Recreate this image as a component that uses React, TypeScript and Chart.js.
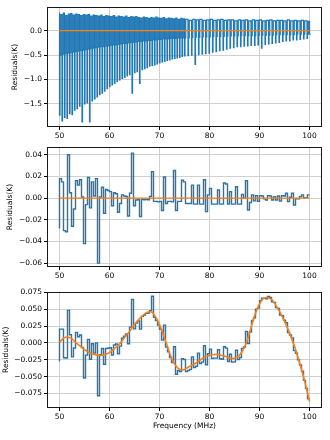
import React, { useEffect, useRef } from "react";
import { Chart, registerables } from "chart.js";
Chart.register(...registerables);

// ---------- data ----------
const X_TICKS = [50, 60, 70, 80, 90, 100];

// Panel 1: raw residual spikes
const SPIKE_FREQ = [
  50.0, 50.5, 51.0, 51.5, 52.0, 52.5, 53.0, 53.5, 54.0, 54.5, 55.0,
  55.5, 56.0, 56.5, 57.0, 57.5, 58.0, 58.5, 59.0, 59.5, 60.0,
  60.5, 61.0, 61.5, 62.0, 62.5, 63.0, 63.5, 64.0, 64.5, 65.0,
  65.5, 66.0, 66.5, 67.0, 67.5, 68.0, 68.5, 69.0, 69.5, 70.0,
  70.5, 71.0, 71.5, 72.0, 72.5, 73.0, 73.5, 74.0, 74.5, 75.0,
  75.7, 76.4, 77.1, 77.8, 78.5, 79.2, 79.9, 80.6, 81.3, 82.0, 82.7, 83.4,
  84.1, 84.8, 85.5, 86.2, 86.9, 87.6, 88.3, 89.0, 89.7, 90.4, 91.1, 91.8,
  92.5, 93.2, 93.9, 94.6, 95.3, 96.0, 96.7, 97.4, 98.1, 98.8, 99.5, 100.0,
];
const SPIKE_TOP = [
  0.37, 0.33, 0.36, 0.31, 0.34, 0.35, 0.32, 0.34, 0.33, 0.31, 0.33,
  0.32, 0.33, 0.30, 0.32, 0.31, 0.30, 0.32, 0.29, 0.31, 0.30,
  0.29, 0.31, 0.28, 0.30, 0.29, 0.28, 0.30, 0.27, 0.29, 0.28,
  0.29, 0.27, 0.26, 0.28, 0.27, 0.25, 0.27, 0.26, 0.28, 0.26,
  0.25, 0.27, 0.24, 0.26, 0.25, 0.24, 0.26, 0.23, 0.25, 0.24,
  0.23, 0.21, 0.23, 0.22, 0.23, 0.21, 0.22, 0.23, 0.21, 0.22, 0.23, 0.21,
  0.22, 0.22, 0.20, 0.22, 0.21, 0.22, 0.20, 0.22, 0.21, 0.22, 0.20, 0.21,
  0.22, 0.20, 0.21, 0.21, 0.20, 0.22, 0.20, 0.21, 0.20, 0.21, 0.20, 0.19,
];
const SPIKE_BOTTOM = [
  -1.73, -1.85, -1.78, -1.80, -1.70, -1.72, -1.63, -1.60, -1.55, -1.87, -1.50,
  -1.48, -1.87, -1.44, -1.40, -1.36, -1.31, -1.28, -1.24, -1.19, -1.15,
  -1.11, -1.08, -1.04, -1.01, -0.98, -0.96, -0.93, -0.90, -1.28, -0.86,
  -0.84, -1.08, -0.80, -0.78, -0.76, -0.73, -0.71, -0.70, -0.68, -0.66,
  -0.64, -0.63, -0.61, -0.60, -0.58, -0.57, -0.56, -0.55, -0.53, -0.52,
  -0.51, -0.50, -0.69, -0.49, -0.48, -0.47, -0.46, -0.44, -0.43, -0.41, -0.40, -0.38,
  -0.36, -0.35, -0.33, -0.33, -0.32, -0.31, -0.30, -0.30, -0.29, -0.36, -0.28, -0.27,
  -0.26, -0.25, -0.24, -0.22, -0.21, -0.21, -0.19, -0.19, -0.18, -0.17, -0.16, -0.07,
];
const SPIKE_BAND = [
  -0.50, -0.48, -0.47, -0.46, -0.45, -0.44, -0.43, -0.42, -0.41, -0.40, -0.39,
  -0.38, -0.37, -0.36, -0.35, -0.34, -0.33, -0.33, -0.32, -0.31, -0.30,
  -0.29, -0.29, -0.28, -0.27, -0.26, -0.26, -0.25, -0.24, -0.24, -0.23,
  -0.22, -0.22, -0.21, -0.21, -0.20, -0.20, -0.19, -0.19, -0.18, -0.18,
  -0.17, -0.17, -0.17, -0.16, -0.16, -0.16, -0.15, -0.15, -0.15, -0.15,
  -0.15, -0.14, -0.14, -0.14, -0.13, -0.13, -0.13, -0.12, -0.12, -0.12, -0.12, -0.11,
  -0.11, -0.11, -0.11, -0.10, -0.10, -0.10, -0.10, -0.10, -0.09, -0.09, -0.09, -0.09,
  -0.09, -0.08, -0.08, -0.08, -0.08, -0.08, -0.08, -0.07, -0.07, -0.07, -0.07, -0.07,
];

// Panels 2 and 3: binned residuals (step plot, value i holds over (FREQ[i-1], FREQ[i]])
const FREQ_EDGES = [
  50.0, 50.4, 50.8, 51.2, 51.6, 52.0, 52.4, 52.8, 53.2, 53.6, 54.0, 54.4, 54.8, 55.2, 55.6,
  56.0, 56.4, 56.8, 57.2, 57.6, 58.0, 58.4, 58.8, 59.2, 59.6, 60.0, 60.4, 60.8, 61.2, 61.6,
  62.0, 62.4, 62.8, 63.2, 63.6, 64.0, 64.4, 64.8, 65.2, 65.6, 66.0, 66.4, 66.8, 67.2, 67.6,
  68.0, 68.4, 68.8, 69.2, 69.6, 70.0, 70.4, 70.8, 71.2, 71.6, 72.0, 72.4, 72.8, 73.2, 73.6,
  74.0, 74.4, 74.8, 75.2, 75.6, 76.0, 76.4, 76.8, 77.2, 77.6, 78.0, 78.4, 78.8, 79.2, 79.6,
  80.0, 80.4, 80.8, 81.2, 81.6, 82.0, 82.4, 82.8, 83.2, 83.6, 84.0, 84.4, 84.8, 85.2, 85.6,
  86.0, 86.4, 86.8, 87.2, 87.6, 88.0, 88.4, 88.8, 89.2, 89.6, 90.0, 90.4, 90.8, 91.2, 91.6,
  92.0, 92.4, 92.8, 93.2, 93.6, 94.0, 94.4, 94.8, 95.2, 95.6, 96.0, 96.4, 96.8, 97.2, 97.6,
  98.0, 98.4, 98.8, 99.2, 99.6, 100.0,
];
const RESID_AFTER_FIT = [
  -0.028, 0.018, 0.015, -0.030, -0.031, 0.040, 0.005, -0.026, -0.010, 0.016,
  0.012, 0.017, 0.001, -0.042, -0.006, 0.019, -0.009, 0.015, 0.002, 0.018,
  -0.060, 0.001, 0.010, -0.014, 0.008, 0.007, 0.006, -0.007, 0.005, 0.004,
  -0.013, -0.005, 0.003, 0.002, 0.0015, -0.0165, 0.0045, 0.0415, -0.007, -0.0017,
  -0.0015, -0.017, -0.001, -0.0015, -0.001, -0.0015, 0.0015, 0.0245, -0.003, -0.003,
  -0.0035, -0.003, -0.0115, 0.0195, -0.005, -0.003, -0.003, -0.0035, 0.0255, -0.0115,
  -0.003, -0.003, 0.0165, 0.015, -0.005, -0.005, -0.005, 0.012, -0.0055, -0.0055,
  0.012, -0.0055, -0.0055, 0.017, -0.0125, 0.003, 0.009, -0.0055, -0.0055, -0.0055,
  0.0075, -0.0055, -0.0055, 0.014, 0.013, -0.0055, 0.006, -0.0055, -0.0055, 0.0105,
  -0.0055, -0.0055, 0.0035, 0.0, 0.016, -0.011, -0.004, 0.003, -0.0025, 0.0023,
  -0.003, 0.0023, 0.002, -0.0007, -0.0017, 0.0023, 0.002, -0.0017, 0.0014, -0.0017,
  0.002, -0.0026, 0.0023, 0.002, 0.0045, -0.0032, 0.0008, 0.0045, -0.0063, -0.0007,
  -0.0007, 0.0014, 0.003, 0.0005, 0.0005, 0.003,
];
const RESID_BEFORE_FIT = [
  -0.027, 0.0206, 0.0206, -0.022, -0.0222, 0.0484, 0.0122, -0.0207, -0.0075, 0.0157,
  0.0092, 0.0118, -0.0066, -0.052, -0.018, 0.0053, -0.0241, -0.0012, -0.015, 0.0002,
  -0.0783, -0.0175, -0.0083, -0.0315, -0.0083, -0.0078, -0.007, -0.0178, -0.003, -0.0016,
  -0.0159, -0.0047, 0.007, 0.010, 0.0135, -0.0011, 0.0235, 0.0647, 0.021, 0.0295,
  0.0329, 0.0206, 0.0396, 0.0415, 0.044, 0.0446, 0.0478, 0.0695, 0.038, 0.0332,
  0.0267, 0.0204, 0.0043, 0.0265, -0.006, -0.0132, -0.0216, -0.0289, -0.0055, -0.0465,
  -0.0408, -0.0424, -0.0234, -0.0245, -0.0425, -0.0408, -0.0392, -0.0206, -0.0365, -0.0345,
  -0.015, -0.0305, -0.0285, -0.004, -0.0323, -0.0159, -0.0091, -0.0229, -0.0225, -0.0225,
  -0.0098, -0.0234, -0.0242, -0.0055, -0.0077, -0.0274, -0.0167, -0.0284, -0.028, -0.0108,
  -0.0247, -0.0215, -0.0081, -0.006, 0.0172, -0.0008, 0.0162, 0.0334, 0.0375, 0.0503,
  0.0518, 0.0627, 0.0666, 0.0663, 0.0657, 0.0692, 0.0675, 0.0613, 0.0604, 0.0525,
  0.0514, 0.0416, 0.0407, 0.034, 0.0301, 0.0154, 0.0118, 0.0075, -0.0113, -0.0153,
  -0.0249, -0.0328, -0.0418, -0.0555, -0.0675, -0.083,
];

// Panel 3: smooth fit
const FIT_FREQ = [
  50, 50.5, 51, 51.5, 52, 52.5, 53, 53.5, 54, 54.5, 55, 55.5, 56, 56.5, 57, 57.5, 58, 58.5, 59, 59.5,
  60, 60.5, 61, 61.5, 62, 62.5, 63, 63.5, 64, 64.5, 65, 65.5, 66, 66.5, 67, 67.5, 68, 68.5, 69, 69.5,
  70, 70.5, 71, 71.5, 72, 72.5, 73, 73.5, 74, 74.5, 75, 75.5, 76, 76.5, 77, 77.5, 78, 78.5, 79, 79.5,
  80, 80.5, 81, 81.5, 82, 82.5, 83, 83.5, 84, 84.5, 85, 85.5, 86, 86.5, 87, 87.5, 88, 88.5, 89, 89.5,
  90, 90.5, 91, 91.5, 92, 92.5, 93, 93.5, 94, 94.5, 95, 95.5, 96, 96.5, 97, 97.5, 98, 98.5, 99, 99.5,
  100,
];
const FIT_VAL = [
  0.001, 0.005, 0.008, 0.009, 0.008, 0.006, 0.0025, -0.001, -0.004, -0.007,
  -0.010, -0.0125, -0.0145, -0.016, -0.017, -0.018, -0.0185, -0.0185, -0.0175, -0.016,
  -0.014, -0.0115, -0.008, -0.005, -0.0015, 0.003, 0.008, 0.013, 0.017, 0.0225,
  0.0275, 0.032, 0.036, 0.040, 0.043, 0.0455, 0.0465, 0.046, 0.041, 0.035,
  0.027, 0.018, 0.007, -0.003, -0.015, -0.024, -0.031, -0.036, -0.039, -0.040,
  -0.0395, -0.037, -0.035, -0.033, -0.031, -0.0285, -0.026, -0.0235, -0.021, -0.0195,
  -0.0185, -0.0175, -0.017, -0.017, -0.0175, -0.0185, -0.0195, -0.021, -0.0225, -0.023,
  -0.0225, -0.021, -0.018, -0.013, -0.006, 0.003, 0.015, 0.028, 0.040, 0.050,
  0.058, 0.064, 0.067, 0.0675, 0.0665, 0.064, 0.059, 0.053, 0.047, 0.040,
  0.032, 0.024, 0.015, 0.005, -0.005, -0.017, -0.029, -0.042, -0.056, -0.071,
  -0.087,
];

const P1_TICKS = [-1.5, -1.0, -0.5, 0.0];
const P2_TICKS = [-0.06, -0.04, -0.02, 0.0, 0.02, 0.04];
const P3_TICKS = [-0.075, -0.05, -0.025, 0.0, 0.025, 0.05, 0.075];

// ---------- styling ----------
const BLUE = "#1f77b4";
const ORANGE = "#ff7f0e";
const FONT = "'DejaVu Sans', sans-serif";

function fmt(v: number, d: number) {
  const s = Math.abs(v).toFixed(d);
  return (v < -1e-9 ? "\u2212" : "") + s;
}

const framePlugin = {
  id: "frame",
  afterDraw(chart: any) {
    const { ctx, chartArea: a } = chart;
    const l = Math.round(a.left), t = Math.round(a.top), r = Math.round(a.right), b = Math.round(a.bottom);
    ctx.save();
    ctx.strokeStyle = "#1a1a1a";
    ctx.lineWidth = 1;
    ctx.strokeRect(l + 0.5, t + 0.5, r - l - 1, b - t - 1);
    ctx.restore();
  },
};

const zeroLine = () => ({
  data: [{ x: 50, y: 0 }, { x: 100, y: 0 }],
  borderColor: ORANGE,
  borderWidth: 1.4,
  pointRadius: 0,
});

function stepSeries(values: number[]) {
  return FREQ_EDGES.map((f, i) => ({ x: f, y: values[i] }));
}

function spikeSeries() {
  const pts: { x: number; y: number }[] = [];
  SPIKE_FREQ.forEach((f, i) => {
    pts.push({ x: f, y: SPIKE_TOP[i] });
    pts.push({ x: f + 0.1, y: SPIKE_BOTTOM[i] });
    pts.push({ x: f + 0.25, y: SPIKE_BAND[i] });
  });
  return pts;
}

type PanelProps = {
  top: number; height: number; padTop: number; xHeight: number;
  yMin: number; yMax: number; yTicks: number[]; yDec: number; yTitlePad: number;
  xTitle?: string; datasets: any[];
};

function Panel(p: PanelProps) {
  const ref = useRef<HTMLCanvasElement>(null);
  useEffect(() => {
    const tickFont = { family: FONT, size: 7.5 };
    const chart = new Chart(ref.current as HTMLCanvasElement, {
      type: "line",
      data: { datasets: p.datasets },
      options: {
        animation: false,
        responsive: false,
        events: [],
        layout: { padding: { top: p.padTop, right: 8, left: 0, bottom: 0 } },
        plugins: { legend: { display: false }, tooltip: { enabled: false } },
        elements: { point: { radius: 0 } },
        scales: {
          x: {
            type: "linear",
            min: 47.5,
            max: 102.5,
            afterBuildTicks: (s: any) => { s.ticks = X_TICKS.map((v) => ({ value: v })); },
            afterFit: (s: any) => { s.height = p.xHeight; },
            ticks: { font: tickFont, color: "#000", padding: 2, maxRotation: 0, autoSkip: false, callback: (v: any) => String(v) },
            grid: { color: "#d0d0d0", lineWidth: 1, tickLength: 3, tickColor: "#000", tickWidth: 1 },
            border: { display: false },
            title: p.xTitle
              ? { display: true, text: p.xTitle, font: tickFont, color: "#000", padding: { top: 0, bottom: 9 } }
              : { display: false },
          },
          y: {
            type: "linear",
            min: p.yMin,
            max: p.yMax,
            afterBuildTicks: (s: any) => { s.ticks = p.yTicks.map((v) => ({ value: v })); },
            afterFit: (s: any) => { s.width = 47; },
            ticks: { font: tickFont, color: "#000", padding: 2, autoSkip: false, callback: (v: any) => fmt(Number(v), p.yDec) },
            grid: { color: "#d0d0d0", lineWidth: 1, tickLength: 3, tickColor: "#000", tickWidth: 1 },
            border: { display: false },
            title: { display: true, text: "Residuals(K)", font: tickFont, color: "#000", padding: { top: p.yTitlePad, bottom: 0 } },
          },
        },
      } as any,
      plugins: [framePlugin],
    });
    return () => chart.destroy();
  }, []);
  return (
    <div style={{ position: "absolute", left: 0, top: p.top, width: 330, height: p.height }}>
      <canvas ref={ref} width={330} height={p.height} style={{ display: "block" }} />
    </div>
  );
}

export default function App() {
  const p1 = [
    zeroLine(),
    { data: spikeSeries(), borderColor: BLUE, borderWidth: 1.2, stepped: "after", pointRadius: 0 },
  ];
  const p2 = [
    zeroLine(),
    { data: stepSeries(RESID_AFTER_FIT), borderColor: BLUE, borderWidth: 1.4, stepped: "after", pointRadius: 0 },
  ];
  const p3 = [
    {
      data: FIT_FREQ.map((f, i) => ({ x: f, y: FIT_VAL[i] })),
      borderColor: ORANGE, borderWidth: 1.6, tension: 0.35, pointRadius: 0,
    },
    { data: stepSeries(RESID_BEFORE_FIT), borderColor: BLUE, borderWidth: 1.4, stepped: "after", pointRadius: 0 },
  ];
  return (
    <div style={{ position: "absolute", left: 0, top: 0, width: 330, height: 440, background: "#fff" }}>
      <Panel top={0} height={140} padTop={7} xHeight={13} yMin={-1.975} yMax={0.485}
        yTicks={P1_TICKS} yDec={1} yTitlePad={11} datasets={p1} />
      <Panel top={140} height={145} padTop={7} xHeight={18} yMin={-0.0636} yMax={0.0472}
        yTicks={P2_TICKS} yDec={2} yTitlePad={6} datasets={p2} />
      <Panel top={285} height={155} padTop={4} xHeight={32} yMin={-0.0966} yMax={0.0765}
        yTicks={P3_TICKS} yDec={3} yTitlePad={1.3} xTitle="Frequency (MHz)" datasets={p3} />
    </div>
  );
}
